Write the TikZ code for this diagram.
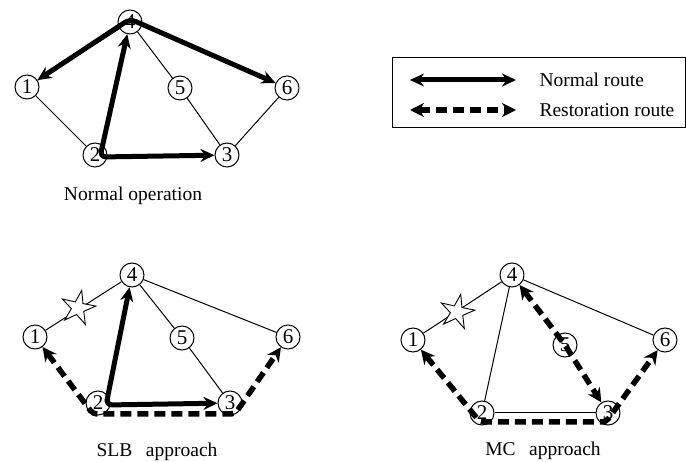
\documentclass[tikz,border=0pt]{standalone}
\usepackage{fontspec}
\setmainfont{Liberation Serif}
\usetikzlibrary{arrows.meta,shapes.geometric}
\tikzset{
  nd/.style={circle,draw,fill=white,line width=1pt,inner sep=0pt,minimum size=24pt,font=\fontsize{21}{21}\selectfont},
  link/.style={line width=1pt},
  normal/.style={line width=5pt,rounded corners=6pt,{Stealth[length=14pt,width=13pt]}-{Stealth[length=14pt,width=13pt]}},
  restore/.style={line width=5.5pt,dash pattern=on 11pt off 6pt,rounded corners=4pt,{Stealth[length=14pt,width=14pt]}-{Stealth[length=14pt,width=14pt]}},
  fault/.style={star,star points=5,star point ratio=2.7,minimum size=36pt,draw,fill=white,line width=0.9pt,inner sep=0pt,rotate=-12},
  caption/.style={font=\fontsize{19.5}{20}\selectfont}
}
\begin{document}
\begin{tikzpicture}[x=1pt,y=-1pt]
\useasboundingbox (0,0) rectangle (686,462);

% ---------- normal operation ----------
\node[nd] (a4) at (130,22) {4};
\node[nd] (a1) at (27,87) {1};
\node[nd] (a5) at (180,88) {5};
\node[nd] (a6) at (287,88) {6};
\node[nd] (a2) at (95,155) {2};
\node[nd] (a3) at (227,155) {3};
\draw[link] (a1) -- (a4);
\draw[link] (a1) -- (a2);
\draw[link] (a4) -- (a5);
\draw[link] (a5) -- (a3);
\draw[link] (a6) -- (a3);
\draw[normal] (a1) -- (130,19) -- (a6);
\draw[normal] (a4) -- (100,157) -- (a3);
\node[caption] (capA) at (133,196) {Normal operation};

% ---------- legend ----------
\node[draw,line width=1pt,minimum width=293pt,minimum height=70pt,inner sep=0pt] (leg) at (538.5,93) {};
\coordinate (l1a) at (410,80);
\coordinate (l1b) at (516,80);
\coordinate (l2a) at (410,110);
\coordinate (l2b) at (516,110);
\draw[normal] (l1a) -- (l1b);
\draw[restore] (l2a) -- (l2b);
\node[caption,anchor=west] (t1) at (536,80) {Normal route};
\node[caption,anchor=west] (t2) at (536,110) {Restoration route};

% ---------- SLB approach ----------
\node[nd] (b4) at (132,275) {4};
\node[nd] (b1) at (35,337) {1};
\node[nd] (b5) at (182,338) {5};
\node[nd] (b6) at (288,337) {6};
\node[nd] (b2) at (98,403) {2};
\node[nd] (b3) at (230,403) {3};
\draw[link] (b1) -- (b4);
\draw[link] (b4) -- (b5);
\draw[link] (b4) -- (b6);
\draw[link] (b5) -- (b3);
\node[fault] (bs) at (78,308) {};
\draw[normal] (b4) -- (106,405) -- (b3);
\draw[restore] (b1) -- (93,414) -- (235,414) -- (b6);
\node[caption] (capB) at (157,452) {SLB\hspace{0.45em} approach};

% ---------- MC approach ----------
\node[nd] (c4) at (512,275) {4};
\node[nd] (c1) at (413,340) {1};
\node[nd] (c5) at (565,345) {5};
\node[nd] (c6) at (665,340) {6};
\node[nd] (c2) at (482,413) {2};
\node[nd] (c3) at (608,413) {3};
\draw[link] (c1) -- (c4);
\draw[link] (c2) -- (c4);
\draw[link] (c4) -- (c6);
\draw[link] (c2) -- (c3);
\node[fault] (cs) at (457,312) {};
\draw[restore] (c1) -- (480,422) -- (606,422) -- (c6);
\draw[restore] (c4) -- (c5.center) -- (c3);
\node[caption] (capC) at (543,451) {MC\hspace{0.45em} approach};
\end{tikzpicture}
\end{document}
